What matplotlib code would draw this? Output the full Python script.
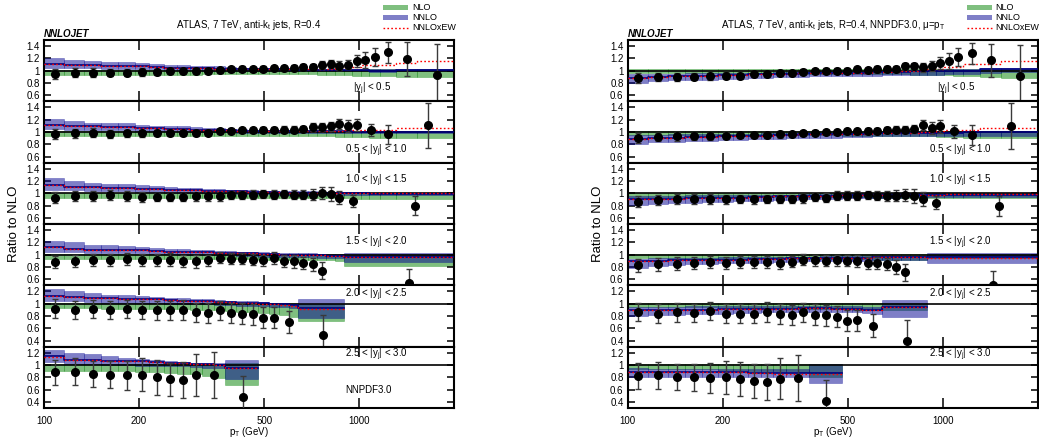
import numpy as np
import matplotlib
matplotlib.use("Agg")
import matplotlib.pyplot as plt
from matplotlib.patches import Rectangle
from matplotlib.lines import Line2D
from matplotlib.ticker import FixedLocator, FixedFormatter, NullLocator

plt.rcParams['font.family'] = ['Liberation Sans', 'DejaVu Sans']
plt.rcParams['mathtext.default'] = 'regular'

# pT bin edges (GeV) of the measurement
PT_EDGES = [100, 116, 134, 152, 172, 194, 216, 240, 264, 290, 318, 346, 376, 408, 442,
            478, 516, 556, 598, 642, 688, 736, 786, 838, 894, 952, 1012, 1076, 1162,
            1310, 1530, 1992]

RAP_LABELS = ['|y$_j$| < 0.5', '0.5 < |y$_j$| < 1.0', '1.0 < |y$_j$| < 1.5',
              '1.5 < |y$_j$| < 2.0', '2.0 < |y$_j$| < 2.5', '2.5 < |y$_j$| < 3.0']

# data binning: number of standard bins, then merged bins at high pT
N_STD = [31, 26, 24, 21, 17, 10]
EXTRA_BINS = [[], [(1012, 1162), (1162, 1310), (1310, 1992)], [(894, 1012), (1012, 1992)],
              [(736, 786), (894, 1992)], [(556, 642), (642, 894)], [(318, 376), (376, 478)]]

# theory binning: first k edges + last edge
TH_NEDGE = [31, 31, 31, 25, 20, 13]
TH_END = [1992, 1992, 1992, 1992, 894, 478]

# data uncertainty (ratio units)
ERR = [
    [0.08, 0.07, 0.07, 0.06, 0.06, 0.06, 0.05, 0.05, 0.05, 0.05, 0.04, 0.04, 0.04, 0.04, 0.04, 0.04,
     0.04, 0.04, 0.05, 0.05, 0.05, 0.06, 0.06, 0.07, 0.08, 0.10, 0.13, 0.15, 0.17, 0.27, 0.50],
    [0.08, 0.07, 0.07, 0.06, 0.06, 0.06, 0.05, 0.05, 0.05, 0.05, 0.04, 0.04, 0.04, 0.04, 0.04, 0.04,
     0.04, 0.05, 0.05, 0.05, 0.06, 0.06, 0.07, 0.08, 0.10, 0.10, 0.10, 0.16, 0.37],
    [0.09, 0.08, 0.08, 0.08, 0.08, 0.08, 0.07, 0.07, 0.07, 0.07, 0.07, 0.07, 0.07, 0.07, 0.07, 0.07,
     0.07, 0.07, 0.07, 0.08, 0.09, 0.10, 0.11, 0.11, 0.10, 0.16],
    [0.10, 0.10, 0.10, 0.10, 0.10, 0.10, 0.10, 0.10, 0.10, 0.10, 0.09, 0.09, 0.09, 0.09, 0.09, 0.09,
     0.10, 0.10, 0.10, 0.10, 0.11, 0.14, 0.23],
    [0.15, 0.15, 0.15, 0.15, 0.15, 0.15, 0.15, 0.15, 0.16, 0.16, 0.16, 0.16, 0.17, 0.17, 0.17, 0.17,
     0.17, 0.18, 0.33],
    [0.21, 0.22, 0.21, 0.22, 0.24, 0.27, 0.28, 0.27, 0.29, 0.34, 0.38, 0.34],
]

# ---------------- left: default scale ----------------
DATA_A = [
    [0.94, 0.97, 0.97, 0.97, 0.97, 0.98, 0.98, 0.99, 0.99, 1.00, 0.99, 1.01, 1.02, 1.03, 1.02, 1.03,
     1.04, 1.04, 1.05, 1.06, 1.06, 1.09, 1.11, 1.08, 1.10, 1.16, 1.17, 1.22, 1.30, 1.19, 0.93],
    [0.97, 0.98, 0.99, 0.97, 0.98, 0.98, 0.98, 0.99, 0.99, 0.99, 0.99, 1.01, 1.02, 1.03, 1.03, 1.04,
     1.04, 1.04, 1.04, 1.05, 1.08, 1.08, 1.09, 1.13, 1.10, 1.11, 1.03, 0.96, 1.11],
    [0.93, 0.95, 0.96, 0.97, 0.96, 0.94, 0.94, 0.94, 0.94, 0.95, 0.95, 0.95, 0.97, 0.97, 0.98, 0.99,
     0.98, 0.99, 0.98, 0.98, 0.98, 1.00, 0.99, 0.93, 0.88, 0.80],
    [0.88, 0.90, 0.91, 0.91, 0.93, 0.91, 0.91, 0.92, 0.90, 0.89, 0.91, 0.95, 0.93, 0.93, 0.92, 0.91,
     0.94, 0.90, 0.89, 0.86, 0.84, 0.74, 0.54],
    [0.92, 0.90, 0.91, 0.90, 0.91, 0.90, 0.89, 0.89, 0.90, 0.86, 0.85, 0.89, 0.85, 0.84, 0.83, 0.77,
     0.77, 0.70, 0.49],
    [0.88, 0.89, 0.85, 0.84, 0.83, 0.84, 0.80, 0.77, 0.76, 0.84, 0.84, 0.48],
]
NNLO_A = [
    [1.11, 1.10, 1.09, 1.08, 1.08, 1.07, 1.06, 1.05, 1.05, 1.04, 1.04, 1.03, 1.03, 1.03, 1.02, 1.02,
     1.02, 1.02, 1.01, 1.01, 1.01, 1.01, 1.01, 1.01, 1.01, 1.01, 1.01, 1.00, 1.00, 1.01, 1.01],
    [1.12, 1.10, 1.09, 1.08, 1.08, 1.06, 1.06, 1.05, 1.05, 1.04, 1.04, 1.03, 1.03, 1.02, 1.02, 1.02,
     1.02, 1.01, 1.01, 1.01, 1.01, 1.01, 1.01, 1.01, 1.01, 1.00, 1.00, 1.00, 1.00, 1.00, 1.00],
    [1.13, 1.11, 1.10, 1.09, 1.08, 1.07, 1.07, 1.06, 1.05, 1.05, 1.04, 1.04, 1.03, 1.03, 1.02, 1.02,
     1.02, 1.01, 1.01, 1.01, 1.01, 1.00, 1.00, 1.00, 1.00, 1.00, 1.00, 0.99, 0.99, 0.99, 0.99],
    [1.12, 1.10, 1.08, 1.08, 1.07, 1.07, 1.06, 1.05, 1.05, 1.04, 1.04, 1.03, 1.03, 1.02, 1.02, 1.01,
     1.01, 1.00, 1.00, 1.00, 0.99, 0.99, 0.98, 0.98, 0.97],
    [1.13, 1.11, 1.10, 1.09, 1.08, 1.07, 1.07, 1.06, 1.05, 1.05, 1.04, 1.03, 1.03, 1.02, 1.02, 1.01,
     1.00, 0.99, 0.98, 0.93],
    [1.14, 1.09, 1.08, 1.07, 1.07, 1.06, 1.05, 1.04, 1.03, 1.02, 1.01, 1.00, 0.95],
]
NNLO_HI_A = [
    [1.21, 1.18, 1.16, 1.14, 1.14, 1.12, 1.11, 1.10, 1.09, 1.08, 1.07, 1.07, 1.06, 1.05, 1.05, 1.05,
     1.04, 1.04, 1.04, 1.03, 1.03, 1.03, 1.03, 1.03, 1.03, 1.03, 1.03, 1.02, 1.02, 1.03, 1.03],
    [1.22, 1.18, 1.15, 1.14, 1.14, 1.11, 1.10, 1.09, 1.09, 1.08, 1.07, 1.06, 1.05, 1.05, 1.04, 1.04,
     1.04, 1.03, 1.03, 1.03, 1.03, 1.03, 1.03, 1.02, 1.02, 1.02, 1.02, 1.02, 1.02, 1.02, 1.02],
    [1.25, 1.20, 1.17, 1.15, 1.15, 1.13, 1.12, 1.10, 1.09, 1.08, 1.07, 1.07, 1.06, 1.05, 1.05, 1.04,
     1.04, 1.03, 1.03, 1.03, 1.03, 1.02, 1.02, 1.02, 1.02, 1.02, 1.02, 1.01, 1.01, 1.01, 1.01],
    [1.23, 1.20, 1.16, 1.15, 1.14, 1.12, 1.11, 1.10, 1.09, 1.08, 1.07, 1.06, 1.06, 1.05, 1.04, 1.04,
     1.03, 1.03, 1.02, 1.02, 1.02, 1.01, 1.01, 1.01, 1.02],
    [1.24, 1.20, 1.17, 1.15, 1.14, 1.12, 1.11, 1.10, 1.09, 1.08, 1.07, 1.06, 1.05, 1.05, 1.04, 1.03,
     1.02, 1.01, 1.00, 1.07],
    [1.25, 1.19, 1.18, 1.14, 1.11, 1.10, 1.08, 1.07, 1.05, 1.04, 1.03, 1.03, 1.08],
]
NNLO_LO_A = [
    [1.05, 1.04, 1.04, 1.03, 1.03, 1.02, 1.02, 1.01, 1.01, 1.01, 1.00, 1.00, 1.00, 1.00, 0.99, 0.99,
     0.99, 0.99, 0.99, 0.99, 0.99, 0.99, 0.99, 0.99, 0.99, 0.99, 0.99, 0.98, 0.98, 0.99, 0.99],
    [1.05, 1.04, 1.03, 1.03, 1.03, 1.02, 1.02, 1.01, 1.01, 1.00, 1.00, 1.00, 1.00, 0.99, 0.99, 0.99,
     0.99, 0.99, 0.99, 0.99, 0.99, 0.99, 0.99, 0.99, 0.98, 0.98, 0.98, 0.98, 0.98, 0.98, 0.98],
    [1.06, 1.05, 1.04, 1.03, 1.03, 1.02, 1.02, 1.01, 1.01, 1.00, 1.00, 1.00, 1.00, 0.99, 0.99, 0.99,
     0.99, 0.98, 0.98, 0.98, 0.98, 0.98, 0.98, 0.97, 0.97, 0.97, 0.97, 0.97, 0.97, 0.97, 0.97],
    [1.05, 1.04, 1.03, 1.03, 1.02, 1.02, 1.01, 1.01, 1.00, 1.00, 0.99, 0.99, 0.99, 0.98, 0.98, 0.97,
     0.97, 0.97, 0.96, 0.96, 0.96, 0.95, 0.95, 0.95, 0.88],
    [1.05, 1.04, 1.03, 1.02, 1.02, 1.01, 1.01, 1.00, 1.00, 0.99, 0.99, 0.98, 0.98, 0.97, 0.97, 0.96,
     0.95, 0.94, 0.93, 0.76],
    [1.05, 1.02, 1.01, 1.00, 1.00, 0.99, 0.99, 0.98, 0.98, 0.97, 0.96, 0.95, 0.78],
]
NLO_LO_A = [
    [0.93, 0.93, 0.93, 0.93, 0.93, 0.93, 0.93, 0.93, 0.93, 0.93, 0.94, 0.94, 0.94, 0.94, 0.94, 0.94,
     0.94, 0.94, 0.94, 0.94, 0.94, 0.93, 0.93, 0.93, 0.93, 0.92, 0.92, 0.92, 0.91, 0.90, 0.90],
    [0.93, 0.93, 0.93, 0.93, 0.93, 0.93, 0.93, 0.93, 0.93, 0.94, 0.94, 0.94, 0.94, 0.94, 0.94, 0.94,
     0.94, 0.94, 0.94, 0.93, 0.93, 0.93, 0.93, 0.92, 0.92, 0.92, 0.92, 0.91, 0.91, 0.91, 0.91],
    [0.93, 0.93, 0.93, 0.93, 0.93, 0.93, 0.93, 0.93, 0.93, 0.93, 0.93, 0.93, 0.93, 0.93, 0.93, 0.93,
     0.93, 0.93, 0.92, 0.92, 0.92, 0.92, 0.92, 0.92, 0.92, 0.91, 0.91, 0.91, 0.91, 0.91, 0.91],
    [0.93, 0.93, 0.93, 0.93, 0.93, 0.93, 0.93, 0.93, 0.93, 0.93, 0.93, 0.93, 0.93, 0.93, 0.93, 0.92,
     0.92, 0.92, 0.92, 0.91, 0.91, 0.91, 0.91, 0.90, 0.81],
    [0.93, 0.93, 0.93, 0.92, 0.92, 0.92, 0.92, 0.91, 0.91, 0.90, 0.90, 0.89, 0.88, 0.87, 0.86, 0.85,
     0.83, 0.82, 0.79, 0.72],
    [0.91, 0.91, 0.91, 0.90, 0.90, 0.89, 0.88, 0.87, 0.86, 0.85, 0.82, 0.79, 0.67],
]
NLO_HI_A = [
    [1.01] * 26 + [1.02, 1.02, 1.02, 1.03, 1.03],
    [1.01] * 26 + [1.02] * 5,
    [1.01] * 31,
    [1.01] * 25,
    [1.01] * 19 + [0.99],
    [1.01] * 12 + [1.03],
]
EW_A = [
    [1.11, 1.10, 1.09, 1.08, 1.08, 1.07, 1.06, 1.05, 1.05, 1.04, 1.04, 1.03, 1.03, 1.03, 1.02, 1.02,
     1.02, 1.02, 1.02, 1.03, 1.03, 1.03, 1.03, 1.06, 1.06, 1.06, 1.10, 1.10, 1.10, 1.125, 1.16],
    [1.12, 1.10, 1.09, 1.08, 1.08, 1.06, 1.06, 1.05, 1.05, 1.04, 1.04, 1.03, 1.03, 1.02, 1.02, 1.02,
     1.02, 1.01, 1.01, 1.01, 1.02, 1.02, 1.02, 1.02, 1.03, 1.03, 1.04, 1.04, 1.04, 1.065, 1.065],
    [1.13, 1.11, 1.10, 1.09, 1.08, 1.07, 1.07, 1.06, 1.05, 1.05, 1.04, 1.04, 1.03, 1.03, 1.02, 1.02,
     1.02, 1.01, 1.01, 1.01, 1.01, 1.00, 1.00, 1.00, 1.00, 1.00, 1.00, 1.00, 1.00, 1.00, 1.01],
    [1.12, 1.10, 1.08, 1.08, 1.07, 1.07, 1.06, 1.05, 1.05, 1.04, 1.04, 1.03, 1.03, 1.02, 1.02, 1.01,
     1.01, 1.00, 1.00, 1.00, 0.99, 0.99, 0.98, 0.98, 0.965],
    [1.13, 1.11, 1.10, 1.09, 1.08, 1.07, 1.07, 1.06, 1.05, 1.05, 1.04, 1.03, 1.03, 1.02, 1.01, 1.00,
     0.99, 0.98, 0.97, 0.92],
    [1.13, 1.09, 1.08, 1.07, 1.07, 1.06, 1.05, 1.04, 1.03, 1.02, 1.01, 1.00, 0.95],
]

# ---------------- right: mu = pT ----------------
DATA_B = [
    [0.885, 0.90, 0.90, 0.90, 0.91, 0.92, 0.92, 0.94, 0.945, 0.96, 0.955, 0.98, 0.99, 1.00, 1.00, 1.00,
     1.02, 1.01, 1.02, 1.03, 1.03, 1.07, 1.07, 1.055, 1.08, 1.13, 1.15, 1.22, 1.28, 1.17, 0.92],
    [0.90, 0.92, 0.93, 0.93, 0.93, 0.94, 0.945, 0.945, 0.955, 0.96, 0.96, 0.98, 0.99, 1.00, 0.995, 1.015,
     1.01, 1.015, 1.015, 1.03, 1.04, 1.04, 1.05, 1.11, 1.07, 1.09, 1.01, 0.955, 1.10],
    [0.86, 0.89, 0.91, 0.91, 0.91, 0.90, 0.91, 0.90, 0.91, 0.91, 0.91, 0.92, 0.94, 0.93, 0.96, 0.96,
     0.96, 0.97, 0.96, 0.95, 0.96, 0.97, 0.96, 0.91, 0.85, 0.79],
    [0.825, 0.84, 0.855, 0.87, 0.88, 0.87, 0.88, 0.88, 0.88, 0.86, 0.885, 0.92, 0.91, 0.90, 0.91, 0.90,
     0.90, 0.87, 0.86, 0.85, 0.80, 0.71, 0.51],
    [0.87, 0.84, 0.86, 0.85, 0.88, 0.84, 0.84, 0.84, 0.87, 0.83, 0.82, 0.86, 0.82, 0.81, 0.79, 0.72,
     0.73, 0.645, 0.40],
    [0.825, 0.835, 0.80, 0.80, 0.79, 0.80, 0.77, 0.74, 0.72, 0.78, 0.79, 0.415],
]
NNLO_B = [
    [0.885, 0.90, 0.91, 0.92, 0.92, 0.93, 0.93, 0.94, 0.94, 0.95, 0.95, 0.96, 0.96, 0.96, 0.96, 0.97,
     0.97, 0.97, 0.98, 0.98, 0.98, 0.98, 0.99, 0.99, 0.99, 0.99, 1.00, 1.00, 1.00, 1.02, 1.02],
    [0.89, 0.90, 0.91, 0.92, 0.92, 0.93, 0.93, 0.94, 0.94, 0.95, 0.95, 0.96, 0.96, 0.96, 0.97, 0.97,
     0.97, 0.97, 0.98, 0.98, 0.98, 0.98, 0.98, 0.99, 0.99, 0.99, 0.99, 0.99, 1.00, 1.00, 1.00],
    [0.90, 0.90, 0.91, 0.92, 0.92, 0.93, 0.93, 0.94, 0.94, 0.95, 0.95, 0.95, 0.96, 0.96, 0.96, 0.97,
     0.97, 0.97, 0.97, 0.98, 0.98, 0.98, 0.98, 0.98, 0.98, 0.98, 0.98, 0.98, 0.98, 0.98, 0.98],
    [0.90, 0.90, 0.91, 0.91, 0.92, 0.92, 0.92, 0.93, 0.93, 0.93, 0.94, 0.94, 0.94, 0.95, 0.95, 0.95,
     0.95, 0.95, 0.96, 0.96, 0.96, 0.96, 0.96, 0.96, 0.96],
    [0.89, 0.89, 0.90, 0.90, 0.90, 0.91, 0.91, 0.91, 0.92, 0.92, 0.92, 0.93, 0.93, 0.93, 0.92, 0.92,
     0.91, 0.90, 0.90, 0.95],
    [0.89, 0.89, 0.88, 0.88, 0.88, 0.88, 0.88, 0.87, 0.87, 0.87, 0.87, 0.87, 0.87],
]
NNLO_HI_B = [
    [0.94, 0.95, 0.95, 0.96, 0.96, 0.96, 0.97, 0.97, 0.97, 0.98, 0.98, 0.98, 0.99, 0.99, 0.99, 0.99,
     1.00, 1.00, 1.00, 1.00, 1.00, 1.00, 1.00, 1.00, 1.01, 1.01, 1.02, 1.02, 1.02, 1.04, 1.04],
    [0.945, 0.95, 0.96, 0.96, 0.96, 0.97, 0.97, 0.97, 0.98, 0.98, 0.98, 0.99, 0.99, 0.99, 0.99, 1.00,
     1.00, 1.00, 1.00, 1.00, 1.00, 1.00, 1.00, 1.01, 1.01, 1.01, 1.01, 1.01, 1.02, 1.02, 1.02],
    [0.955, 0.96, 0.96, 0.97, 0.97, 0.97, 0.97, 0.98, 0.98, 0.98, 0.98, 0.99, 0.99, 0.99, 0.99, 0.99,
     1.00, 1.00, 1.00, 1.00, 1.00, 1.00, 1.00, 1.00, 1.00, 1.00, 1.00, 1.00, 1.00, 1.00, 1.00],
    [0.93, 0.94, 0.95, 0.95, 0.95, 0.96, 0.96, 0.96, 0.96, 0.97, 0.97, 0.97, 0.97, 0.98, 0.98, 0.98,
     0.98, 0.98, 0.98, 0.98, 0.98, 0.98, 0.98, 0.98, 1.03],
    [0.95, 0.95, 0.95, 0.96, 0.96, 0.96, 0.96, 0.97, 0.97, 0.97, 0.97, 0.97, 0.97, 0.97, 0.97, 0.96,
     0.96, 0.95, 0.95, 1.06],
    [0.945, 0.94, 0.94, 0.94, 0.94, 0.94, 0.94, 0.93, 0.93, 0.93, 0.93, 0.93, 1.01],
]
NNLO_LO_B = [
    [0.80, 0.83, 0.84, 0.85, 0.85, 0.86, 0.87, 0.88, 0.885, 0.89, 0.90, 0.90, 0.91, 0.91, 0.91, 0.92,
     0.92, 0.92, 0.92, 0.93, 0.93, 0.93, 0.93, 0.93, 0.93, 0.93, 0.94, 0.94, 0.94, 0.97, 0.98],
    [0.81, 0.83, 0.84, 0.85, 0.86, 0.87, 0.87, 0.88, 0.88, 0.89, 0.90, 0.90, 0.91, 0.91, 0.91, 0.92,
     0.92, 0.92, 0.93, 0.93, 0.93, 0.93, 0.93, 0.94, 0.94, 0.94, 0.94, 0.94, 0.94, 0.94, 0.94],
    [0.81, 0.82, 0.84, 0.85, 0.86, 0.86, 0.87, 0.88, 0.88, 0.89, 0.89, 0.90, 0.90, 0.91, 0.91, 0.92,
     0.92, 0.92, 0.93, 0.93, 0.93, 0.94, 0.94, 0.94, 0.94, 0.94, 0.94, 0.94, 0.94, 0.94, 0.94],
    [0.79, 0.81, 0.83, 0.84, 0.85, 0.86, 0.86, 0.87, 0.87, 0.88, 0.88, 0.89, 0.89, 0.90, 0.90, 0.90,
     0.90, 0.90, 0.91, 0.91, 0.91, 0.91, 0.91, 0.91, 0.86],
    [0.80, 0.81, 0.82, 0.83, 0.83, 0.84, 0.85, 0.85, 0.86, 0.86, 0.87, 0.87, 0.87, 0.87, 0.87, 0.86,
     0.86, 0.85, 0.84, 0.78],
    [0.81, 0.80, 0.81, 0.81, 0.81, 0.81, 0.81, 0.80, 0.80, 0.80, 0.80, 0.80, 0.70],
]
NLO_LO_B = [
    [0.96, 0.96, 0.96, 0.96, 0.96, 0.96, 0.96, 0.96, 0.96, 0.96, 0.95, 0.95, 0.95, 0.95, 0.95, 0.95,
     0.95, 0.94, 0.94, 0.94, 0.94, 0.94, 0.93, 0.93, 0.93, 0.93, 0.93, 0.92, 0.92, 0.89, 0.885],
    [0.95, 0.95, 0.95, 0.95, 0.95, 0.95, 0.95, 0.95, 0.95, 0.95, 0.95, 0.95, 0.95, 0.95, 0.95, 0.94,
     0.94, 0.94, 0.94, 0.94, 0.94, 0.93, 0.93, 0.93, 0.93, 0.92, 0.92, 0.92, 0.91, 0.91, 0.91],
    [0.945, 0.945, 0.945, 0.945, 0.945, 0.945, 0.945, 0.945, 0.945, 0.945, 0.94, 0.94, 0.94, 0.94,
     0.94, 0.94, 0.94, 0.94, 0.93, 0.93, 0.93, 0.93, 0.93, 0.93, 0.93, 0.92, 0.92, 0.92, 0.92, 0.92, 0.92],
    [0.94, 0.94, 0.93, 0.93, 0.93, 0.93, 0.93, 0.93, 0.93, 0.93, 0.93, 0.93, 0.93, 0.93, 0.93, 0.93,
     0.93, 0.93, 0.92, 0.92, 0.92, 0.92, 0.92, 0.92, 0.94],
    [0.94, 0.94, 0.94, 0.94, 0.94, 0.94, 0.93, 0.93, 0.93, 0.93, 0.93, 0.92, 0.92, 0.92, 0.91, 0.91,
     0.90, 0.90, 0.89, 0.89],
    [0.93, 0.93, 0.93, 0.93, 0.93, 0.92, 0.92, 0.91, 0.91, 0.90, 0.90, 0.89, 0.80],
]
NLO_HI_B = [
    [1.02] * 28 + [1.03] * 3,
    [1.02] * 31,
    [1.01] * 31,
    [1.01] * 25,
    [1.01] * 20,
    [1.01] * 13,
]
EW_B = [
    [0.885, 0.90, 0.91, 0.92, 0.92, 0.93, 0.93, 0.94, 0.94, 0.95, 0.95, 0.96, 0.96, 0.96, 0.96, 0.97,
     0.97, 0.97, 0.98, 0.98, 0.98, 0.99, 1.00, 1.01, 1.02, 1.03, 1.06, 1.06, 1.11, 1.11, 1.15],
    [0.89, 0.90, 0.91, 0.92, 0.92, 0.93, 0.93, 0.94, 0.94, 0.95, 0.95, 0.96, 0.96, 0.96, 0.97, 0.97,
     0.97, 0.97, 0.98, 0.98, 0.98, 0.98, 0.99, 1.00, 1.00, 1.01, 1.03, 1.03, 1.03, 1.06, 1.06],
    [0.90, 0.90, 0.91, 0.92, 0.92, 0.93, 0.93, 0.94, 0.94, 0.95, 0.95, 0.95, 0.96, 0.96, 0.96, 0.97,
     0.97, 0.97, 0.97, 0.98, 0.98, 0.98, 0.98, 0.98, 0.98, 0.98, 0.99, 0.99, 0.99, 0.99, 0.99],
    [0.90, 0.90, 0.91, 0.91, 0.92, 0.92, 0.92, 0.93, 0.93, 0.93, 0.94, 0.94, 0.94, 0.95, 0.95, 0.95,
     0.95, 0.95, 0.96, 0.96, 0.96, 0.96, 0.96, 0.96, 0.95],
    [0.89, 0.89, 0.90, 0.90, 0.90, 0.91, 0.91, 0.91, 0.92, 0.92, 0.92, 0.93, 0.93, 0.93, 0.92, 0.92,
     0.91, 0.90, 0.90, 0.94],
    [0.89, 0.89, 0.88, 0.88, 0.88, 0.88, 0.88, 0.87, 0.87, 0.86, 0.86, 0.86, 0.86],
]

GREEN = '#008000'
BLUE = '#000090'
NAVY = '#000080'

W, H = 1039, 443
fig = plt.figure(figsize=(W / 100, H / 100), dpi=100)
AX_W = 410 / W
AX_TOP = 1 - 40 / H
AX_BOT = 1 - 408 / H
PH = (AX_TOP - AX_BOT) / 6


def draw_column(x0px, data, nlo_lo, nlo_hi, nnlo_lo, nnlo_hi, nnlo, ew, title, note):
    """Six stacked rapidity panels starting at pixel column x0px."""
    x0 = x0px / W
    for i in range(6):
        ax = fig.add_axes([x0, AX_TOP - (i + 1) * PH, AX_W, PH])
        ax.set_xscale('log')

        # theory bands
        edges = np.array(PT_EDGES[:TH_NEDGE[i]] + [TH_END[i]], dtype=float)
        left, wid = edges[:-1], np.diff(edges)
        nl, nh = np.array(nlo_lo[i]), np.array(nlo_hi[i])
        ax.bar(left, nh - nl, width=wid, bottom=nl, align='edge', color=GREEN, alpha=0.5,
               lw=0.4, edgecolor=GREEN, zorder=1)
        bl, bh = np.array(nnlo_lo[i]), np.array(nnlo_hi[i])
        ax.bar(left, bh - bl, width=wid, bottom=bl, align='edge', color=BLUE, alpha=0.5,
               lw=0.4, edgecolor=BLUE, zorder=2)
        ax.axhline(1, color='k', lw=1.2, zorder=3)
        c = np.array(nnlo[i])
        ax.step(edges, np.append(c, c[-1]), where='post', color=NAVY, lw=1.2, zorder=4)
        e = np.array(ew[i])
        ax.step(edges, np.append(e, e[-1]), where='post', color='red', lw=1.0,
                ls=(0, (1.2, 1.6)), zorder=4)

        # data points
        n = N_STD[i]
        lo = PT_EDGES[:n] + [b[0] for b in EXTRA_BINS[i]]
        hi = PT_EDGES[1:n + 1] + [b[1] for b in EXTRA_BINS[i]]
        x = (np.array(lo) + np.array(hi)) / 2
        ax.errorbar(x, data[i], yerr=ERR[i], fmt='o', color='k', ms=5.5, ecolor='#3a3a3a',
                    elinewidth=1, capsize=2, capthick=1, zorder=6)

        ax.set_xlim(100, 2000)
        if i < 4:
            ax.set_ylim(0.5, 1.5)
            ax.set_yticks([0.6, 0.8, 1.0, 1.2, 1.4])
            ax.set_yticklabels(['0.6', '0.8', '1', '1.2', '1.4'])
        else:
            ax.set_ylim(0.3, 1.3)
            ax.set_yticks([0.4, 0.6, 0.8, 1.0, 1.2])
            ax.set_yticklabels(['0.4', '0.6', '0.8', '1', '1.2'])
        ax.xaxis.set_major_locator(FixedLocator([100, 200, 500, 1000]))
        ax.xaxis.set_minor_locator(NullLocator())
        ax.xaxis.set_major_formatter(FixedFormatter(['100', '200', '500', '1000']))
        ax.tick_params(axis='x', direction='in', top=True, bottom=True, length=7, width=1.1,
                       labelsize=7, pad=6, labelbottom=(i == 5))
        ax.tick_params(axis='y', direction='in', left=True, right=True, length=5, width=1.1,
                       labelsize=7, pad=3)
        for s in ax.spines.values():
            s.set_linewidth(1.5)

        ly = [0.20, 0.19, 0.70, 0.69, 0.84, 0.86][i]
        lx = 0.754 if i == 0 else 0.734
        ax.text(lx, ly, RAP_LABELS[i], transform=ax.transAxes, fontsize=7, va='center')
        if i == 5 and note:
            ax.text(0.734, 0.29, note, transform=ax.transAxes, fontsize=7, va='center')

    cx = (x0px + 205) / W
    fig.text(cx, 1 - 25 / H, title, ha='center', va='center', fontsize=7)
    fig.text(x0, 1 - 34 / H, 'NNLOJET', fontsize=7, fontweight='bold', fontstyle='italic',
             va='center')
    fig.text(cx, 1 - 432 / H, 'p$_T$ (GeV)', ha='center', va='center', fontsize=7)
    fig.text((x0px - 30) / W, (AX_TOP + AX_BOT) / 2, 'Ratio to NLO', rotation=90,
             ha='center', va='center', fontsize=9.5)

    # legend
    lx0 = (x0px + 339) / W
    lw_ = 25 / W
    fig.add_artist(Rectangle((lx0, 1 - 10 / H), lw_, 5 / H, transform=fig.transFigure,
                             color=GREEN, alpha=0.5, lw=0))
    fig.add_artist(Rectangle((lx0, 1 - 20 / H), lw_, 5 / H, transform=fig.transFigure,
                             color=BLUE, alpha=0.5, lw=0))
    fig.add_artist(Line2D([lx0, lx0 + lw_], [1 - 28 / H] * 2, transform=fig.transFigure,
                          color='red', lw=1.0, ls=(0, (1.2, 1.6))))
    tx = (x0px + 368) / W
    for yy, lab in zip([7.5, 17.5, 28], ['NLO', 'NNLO', 'NNLOxEW']):
        fig.text(tx, 1 - yy / H, lab, fontsize=6.5, va='center')


draw_column(44, DATA_A, NLO_LO_A, NLO_HI_A, NNLO_LO_A, NNLO_HI_A, NNLO_A, EW_A,
            'ATLAS, 7 TeV, anti-k$_t$ jets, R=0.4', 'NNPDF3.0')
draw_column(627.7, DATA_B, NLO_LO_B, NLO_HI_B, NNLO_LO_B, NNLO_HI_B, NNLO_B, EW_B,
            'ATLAS, 7 TeV, anti-k$_t$ jets, R=0.4, NNPDF3.0, \u03bc=p$_T$', None)

fig.savefig('out.png', dpi=100)
